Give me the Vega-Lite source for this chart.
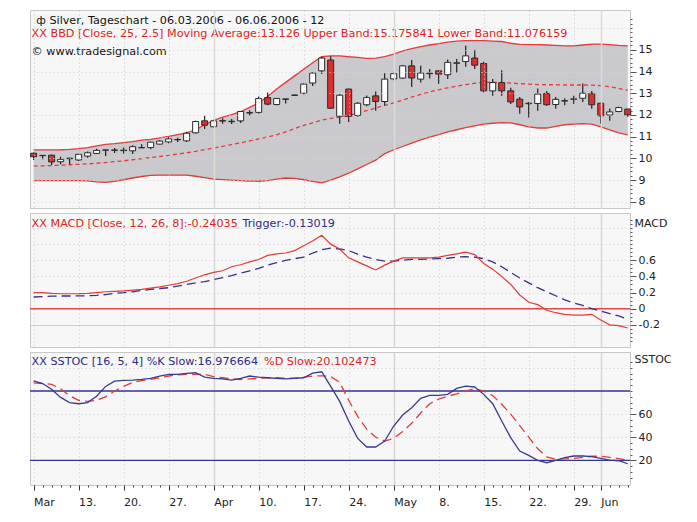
{
  "$schema": "https://vega.github.io/schema/vega-lite/v6.json",
  "background": "#ffffff",
  "padding": {"left": 28, "top": 9, "right": 5, "bottom": 5},
  "spacing": 5,
  "bounds": "flush",
  "config": {
    "view": {"fill": "#f7f7f7", "stroke": "#c8c8c8"},
    "font": "DejaVu Sans",
    "axis": {"labelFont": "DejaVu Sans", "labelFontSize": 11, "labelColor": "#222222", "domain": false, "tickColor": "#555555", "labelOverlap": false, "labelFlush": false, "titleFont": "DejaVu Sans", "titleFontWeight": "normal", "titleFontSize": 11, "titleColor": "#222222"}
  },
  "datasets": {
    "d": [
      {"i":0,"o":10.24,"h":10.27,"l":9.93,"c":10.08,"ma":9.65,"up":10.39,"lo":8.98,"macd":0.20,"trg":0.145,"k":88.7,"dd":87},
      {"i":1,"o":10.13,"h":10.15,"l":9.96,"c":10.14,"ma":9.66,"up":10.39,"lo":8.98,"macd":0.20,"trg":0.15,"k":86.5,"dd":86.5},
      {"i":2,"o":10.15,"h":10.17,"l":9.70,"c":9.84,"ma":9.67,"up":10.39,"lo":8.98,"macd":0.19,"trg":0.155,"k":81.5,"dd":85.8},
      {"i":3,"o":9.85,"h":10.08,"l":9.73,"c":9.96,"ma":9.69,"up":10.40,"lo":8.98,"macd":0.185,"trg":0.157,"k":74.5,"dd":82},
      {"i":4,"o":9.99,"h":10.03,"l":9.73,"c":10.01,"ma":9.71,"up":10.42,"lo":8.98,"macd":0.185,"trg":0.157,"k":70,"dd":76},
      {"i":5,"o":9.93,"h":10.20,"l":9.88,"c":10.19,"ma":9.73,"up":10.45,"lo":8.98,"macd":0.186,"trg":0.158,"k":69,"dd":72},
      {"i":6,"o":10.11,"h":10.32,"l":10.03,"c":10.26,"ma":9.75,"up":10.50,"lo":8.97,"macd":0.19,"trg":0.16,"k":70,"dd":71},
      {"i":7,"o":10.23,"h":10.45,"l":10.20,"c":10.37,"ma":9.78,"up":10.58,"lo":8.92,"macd":0.20,"trg":0.165,"k":75.5,"dd":72},
      {"i":8,"o":10.38,"h":10.40,"l":10.11,"c":10.39,"ma":9.81,"up":10.65,"lo":8.90,"macd":0.21,"trg":0.175,"k":84,"dd":75},
      {"i":9,"o":10.37,"h":10.48,"l":10.25,"c":10.39,"ma":9.85,"up":10.68,"lo":8.95,"macd":0.215,"trg":0.19,"k":88.5,"dd":80},
      {"i":10,"o":10.36,"h":10.50,"l":10.23,"c":10.38,"ma":9.89,"up":10.73,"lo":9.02,"macd":0.22,"trg":0.198,"k":89.3,"dd":84},
      {"i":11,"o":10.35,"h":10.61,"l":10.20,"c":10.54,"ma":9.94,"up":10.77,"lo":9.10,"macd":0.23,"trg":0.21,"k":89.5,"dd":87.5},
      {"i":12,"o":10.49,"h":10.65,"l":10.48,"c":10.50,"ma":9.99,"up":10.84,"lo":9.17,"macd":0.24,"trg":0.225,"k":90,"dd":89},
      {"i":13,"o":10.50,"h":10.77,"l":10.42,"c":10.75,"ma":10.04,"up":10.88,"lo":9.22,"macd":0.255,"trg":0.24,"k":91,"dd":90},
      {"i":14,"o":10.66,"h":10.83,"l":10.64,"c":10.80,"ma":10.09,"up":10.95,"lo":9.23,"macd":0.27,"trg":0.25,"k":93,"dd":91.5},
      {"i":15,"o":10.76,"h":10.98,"l":10.70,"c":10.90,"ma":10.14,"up":11.02,"lo":9.23,"macd":0.29,"trg":0.26,"k":94.4,"dd":93},
      {"i":16,"o":10.86,"h":10.96,"l":10.76,"c":10.87,"ma":10.20,"up":11.10,"lo":9.23,"macd":0.31,"trg":0.28,"k":94.4,"dd":94},
      {"i":17,"o":10.81,"h":11.23,"l":10.76,"c":11.16,"ma":10.26,"up":11.18,"lo":9.23,"macd":0.34,"trg":0.30,"k":95.2,"dd":94.4},
      {"i":18,"o":11.18,"h":11.74,"l":11.15,"c":11.70,"ma":10.33,"up":11.32,"lo":9.18,"macd":0.38,"trg":0.32,"k":95.8,"dd":94.5},
      {"i":19,"o":11.73,"h":11.96,"l":11.35,"c":11.53,"ma":10.41,"up":11.55,"lo":9.12,"macd":0.42,"trg":0.335,"k":92,"dd":94.4},
      {"i":20,"o":11.46,"h":11.78,"l":11.42,"c":11.73,"ma":10.48,"up":11.75,"lo":9.05,"macd":0.45,"trg":0.36,"k":91,"dd":92.5},
      {"i":21,"o":11.72,"h":11.85,"l":11.60,"c":11.74,"ma":10.56,"up":11.90,"lo":9.03,"macd":0.47,"trg":0.385,"k":90.5,"dd":91.5},
      {"i":22,"o":11.69,"h":11.82,"l":11.58,"c":11.71,"ma":10.64,"up":12.02,"lo":9.00,"macd":0.52,"trg":0.41,"k":89.5,"dd":90.5},
      {"i":23,"o":11.73,"h":12.18,"l":11.63,"c":12.16,"ma":10.72,"up":12.15,"lo":8.98,"macd":0.545,"trg":0.44,"k":91,"dd":90},
      {"i":24,"o":12.09,"h":12.22,"l":11.97,"c":12.11,"ma":10.81,"up":12.35,"lo":8.96,"macd":0.58,"trg":0.47,"k":93,"dd":90.5},
      {"i":25,"o":12.12,"h":12.85,"l":12.07,"c":12.76,"ma":10.90,"up":12.55,"lo":8.95,"macd":0.61,"trg":0.50,"k":92,"dd":91},
      {"i":26,"o":12.80,"h":13.03,"l":12.45,"c":12.50,"ma":10.99,"up":12.85,"lo":8.98,"macd":0.66,"trg":0.54,"k":91.5,"dd":91.5},
      {"i":27,"o":12.48,"h":12.78,"l":12.45,"c":12.76,"ma":11.09,"up":13.20,"lo":9.05,"macd":0.68,"trg":0.57,"k":91,"dd":91.5},
      {"i":28,"o":12.72,"h":12.75,"l":12.53,"c":12.74,"ma":11.22,"up":13.50,"lo":9.10,"macd":0.69,"trg":0.60,"k":90.6,"dd":91},
      {"i":29,"o":12.90,"h":12.93,"l":12.89,"c":12.92,"ma":11.38,"up":13.80,"lo":9.08,"macd":0.72,"trg":0.62,"k":91,"dd":91.2},
      {"i":30,"o":13.00,"h":13.45,"l":12.95,"c":13.42,"ma":11.52,"up":14.10,"lo":9.02,"macd":0.78,"trg":0.64,"k":91.5,"dd":92},
      {"i":31,"o":13.47,"h":13.95,"l":13.33,"c":13.93,"ma":11.64,"up":14.40,"lo":8.95,"macd":0.84,"trg":0.69,"k":95.5,"dd":93},
      {"i":32,"o":14.03,"h":14.68,"l":13.88,"c":14.62,"ma":11.76,"up":14.68,"lo":8.88,"macd":0.91,"trg":0.73,"k":96.7,"dd":93.2},
      {"i":33,"o":14.53,"h":14.70,"l":12.28,"c":12.31,"ma":11.84,"up":14.72,"lo":9.00,"macd":0.80,"trg":0.75,"k":84,"dd":92.5},
      {"i":34,"o":11.94,"h":12.95,"l":11.60,"c":12.91,"ma":11.90,"up":14.72,"lo":9.15,"macd":0.74,"trg":0.74,"k":71,"dd":87.5},
      {"i":35,"o":13.19,"h":13.22,"l":11.68,"c":11.94,"ma":11.97,"up":14.68,"lo":9.32,"macd":0.63,"trg":0.72,"k":54,"dd":72},
      {"i":36,"o":11.98,"h":12.58,"l":11.92,"c":12.54,"ma":12.08,"up":14.65,"lo":9.52,"macd":0.58,"trg":0.675,"k":39,"dd":58},
      {"i":37,"o":12.47,"h":12.90,"l":12.40,"c":12.80,"ma":12.20,"up":14.60,"lo":9.72,"macd":0.53,"trg":0.64,"k":31.5,"dd":47},
      {"i":38,"o":12.88,"h":13.08,"l":12.19,"c":12.62,"ma":12.32,"up":14.62,"lo":9.92,"macd":0.48,"trg":0.61,"k":31.5,"dd":40},
      {"i":39,"o":12.62,"h":13.92,"l":12.45,"c":13.65,"ma":12.44,"up":14.68,"lo":10.22,"macd":0.54,"trg":0.59,"k":36.7,"dd":36.7},
      {"i":40,"o":13.66,"h":13.95,"l":13.60,"c":13.90,"ma":12.56,"up":14.80,"lo":10.40,"macd":0.59,"trg":0.59,"k":49.7,"dd":39},
      {"i":41,"o":13.70,"h":14.30,"l":13.65,"c":14.26,"ma":12.68,"up":14.95,"lo":10.55,"macd":0.63,"trg":0.60,"k":59.2,"dd":45},
      {"i":42,"o":14.26,"h":14.53,"l":13.29,"c":13.70,"ma":12.82,"up":15.05,"lo":10.70,"macd":0.63,"trg":0.61,"k":65.5,"dd":52},
      {"i":43,"o":13.65,"h":14.26,"l":13.49,"c":13.93,"ma":12.95,"up":15.15,"lo":10.85,"macd":0.63,"trg":0.61,"k":73.7,"dd":61},
      {"i":44,"o":13.90,"h":14.11,"l":13.68,"c":13.92,"ma":13.06,"up":15.22,"lo":10.98,"macd":0.63,"trg":0.615,"k":76.3,"dd":69},
      {"i":45,"o":14.03,"h":14.06,"l":13.42,"c":13.88,"ma":13.16,"up":15.28,"lo":11.10,"macd":0.64,"trg":0.62,"k":76.3,"dd":73},
      {"i":46,"o":13.85,"h":14.55,"l":13.65,"c":14.42,"ma":13.25,"up":15.35,"lo":11.22,"macd":0.66,"trg":0.625,"k":77.1,"dd":75.5},
      {"i":47,"o":14.38,"h":14.57,"l":13.96,"c":14.40,"ma":13.33,"up":15.40,"lo":11.32,"macd":0.68,"trg":0.64,"k":82.3,"dd":77.5},
      {"i":48,"o":14.46,"h":15.18,"l":14.22,"c":14.72,"ma":13.40,"up":15.42,"lo":11.42,"macd":0.70,"trg":0.645,"k":84.3,"dd":80},
      {"i":49,"o":14.62,"h":15.00,"l":14.11,"c":14.29,"ma":13.46,"up":15.42,"lo":11.50,"macd":0.67,"trg":0.64,"k":83.5,"dd":82},
      {"i":50,"o":14.37,"h":14.45,"l":13.05,"c":13.11,"ma":13.50,"up":15.42,"lo":11.58,"macd":0.56,"trg":0.62,"k":77.1,"dd":80},
      {"i":51,"o":13.11,"h":13.65,"l":12.88,"c":13.49,"ma":13.50,"up":15.40,"lo":11.62,"macd":0.49,"trg":0.58,"k":69,"dd":76},
      {"i":52,"o":13.49,"h":14.06,"l":12.88,"c":13.11,"ma":13.49,"up":15.38,"lo":11.65,"macd":0.40,"trg":0.52,"k":54,"dd":68.5},
      {"i":53,"o":13.11,"h":13.25,"l":12.50,"c":12.60,"ma":13.47,"up":15.30,"lo":11.64,"macd":0.30,"trg":0.45,"k":39.6,"dd":60},
      {"i":54,"o":12.73,"h":12.83,"l":12.06,"c":12.37,"ma":13.44,"up":15.25,"lo":11.55,"macd":0.17,"trg":0.38,"k":28,"dd":50},
      {"i":55,"o":12.52,"h":12.60,"l":11.88,"c":12.54,"ma":13.42,"up":15.24,"lo":11.45,"macd":0.08,"trg":0.32,"k":24.3,"dd":40},
      {"i":56,"o":12.53,"h":13.22,"l":12.19,"c":12.96,"ma":13.40,"up":15.24,"lo":11.40,"macd":0.05,"trg":0.26,"k":20,"dd":30},
      {"i":57,"o":12.99,"h":13.10,"l":12.43,"c":12.47,"ma":13.39,"up":15.22,"lo":11.40,"macd":-0.02,"trg":0.21,"k":17.9,"dd":23},
      {"i":58,"o":12.48,"h":12.83,"l":12.29,"c":12.72,"ma":13.39,"up":15.20,"lo":11.48,"macd":-0.05,"trg":0.16,"k":20,"dd":20.9},
      {"i":59,"o":12.64,"h":12.77,"l":12.45,"c":12.66,"ma":13.38,"up":15.18,"lo":11.55,"macd":-0.07,"trg":0.11,"k":22.3,"dd":21.2},
      {"i":60,"o":12.72,"h":12.88,"l":12.50,"c":12.74,"ma":13.38,"up":15.18,"lo":11.58,"macd":-0.08,"trg":0.07,"k":23.7,"dd":21.7},
      {"i":61,"o":12.77,"h":13.45,"l":12.60,"c":13.00,"ma":13.38,"up":15.22,"lo":11.60,"macd":-0.08,"trg":0.04,"k":23.7,"dd":22.5},
      {"i":62,"o":12.99,"h":13.10,"l":12.29,"c":12.47,"ma":13.37,"up":15.26,"lo":11.58,"macd":-0.07,"trg":0.00,"k":23.1,"dd":23.5},
      {"i":63,"o":12.54,"h":12.56,"l":11.60,"c":11.96,"ma":13.35,"up":15.26,"lo":11.45,"macd":-0.14,"trg":-0.03,"k":21.7,"dd":23.5},
      {"i":64,"o":12.00,"h":12.30,"l":11.73,"c":12.14,"ma":13.30,"up":15.24,"lo":11.32,"macd":-0.20,"trg":-0.06,"k":20.2,"dd":22.5},
      {"i":65,"o":12.16,"h":12.38,"l":12.12,"c":12.34,"ma":13.22,"up":15.20,"lo":11.18,"macd":-0.21,"trg":-0.09,"k":19.6,"dd":21.5},
      {"i":66,"o":12.27,"h":12.29,"l":11.92,"c":12.00,"ma":13.13,"up":15.18,"lo":11.08,"macd":-0.24,"trg":-0.13,"k":17,"dd":20.1}
    ]
  },
  "vconcat": [
    {
      "width": 600,
      "height": 198,
      "data": {"name": "d"},
      "layer": [
        {
          "mark": {"type": "area", "color": "#c9c9ce", "opacity": 1},
          "encoding": {
            "x": {
              "field": "i", "type": "quantitative",
              "scale": {"domain": [-0.4, 66.25], "nice": false, "zero": false, "padding": 0},
              "axis": {
                "title": null, "labels": false, "ticks": false, "zindex": 1, "tickCount": 500,
                "values": [0, 5, 10, 15, 20, 25, 30, 35, 40, 45, 50, 55, 60, 63],
                "gridColor": {"condition": {"test": "datum.value == 20 || datum.value == 40 || datum.value == 63", "value": "#dcdad2"}, "value": "#c4c4c4"},
                "gridDash": {"condition": {"test": "datum.value == 20 || datum.value == 40 || datum.value == 63", "value": []}, "value": [1, 3]},
                "gridWidth": {"condition": {"test": "datum.value == 20 || datum.value == 40 || datum.value == 63", "value": 1.5}, "value": 1}
              }
            },
            "y": {
              "field": "up", "type": "quantitative",
              "scale": {"domain": [7.72, 16.83], "nice": false, "zero": false, "padding": 0},
              "axis": {
                "orient": "right", "title": null, "zindex": 1, "labelPadding": 2, "labelOverlap": false, "tickCount": 500,
                "values": [8, 8.2, 8.4, 8.6, 8.8, 9, 9.2, 9.4, 9.6, 9.8, 10, 10.2, 10.4, 10.6, 10.8, 11, 11.2, 11.4, 11.6, 11.8, 12, 12.2, 12.4, 12.6, 12.8, 13, 13.2, 13.4, 13.6, 13.8, 14, 14.2, 14.4, 14.6, 14.8, 15, 15.2, 15.4, 15.6, 15.8, 16, 16.2, 16.4],
                "labelExpr": "datum.value == round(datum.value) && datum.value <= 15 ? format(datum.value, 'd') : ''",
                "tickSize": {"condition": {"test": "datum.value == round(datum.value) && datum.value <= 15", "value": 6}, "value": 2},
                "gridOpacity": {"condition": {"test": "datum.value == round(datum.value)", "value": 1}, "value": 0},
                "gridDash": [1, 3],
                "gridColor": "#d6d6d6"
              }
            },
            "y2": {"field": "lo"}
          }
        },
        {
          "mark": {"type": "line", "color": "#e23b3b", "strokeWidth": 1.3},
          "encoding": {"x": {"field": "i", "type": "quantitative"}, "y": {"field": "up", "type": "quantitative"}}
        },
        {
          "mark": {"type": "line", "color": "#e23b3b", "strokeWidth": 1.3},
          "encoding": {"x": {"field": "i", "type": "quantitative"}, "y": {"field": "lo", "type": "quantitative"}}
        },
        {
          "mark": {"type": "line", "color": "#e23b3b", "strokeWidth": 1.3, "strokeDash": [4, 3]},
          "encoding": {"x": {"field": "i", "type": "quantitative"}, "y": {"field": "ma", "type": "quantitative"}}
        },
        {
          "mark": {"type": "rule", "color": "#222222", "strokeWidth": 1.2},
          "encoding": {"x": {"field": "i", "type": "quantitative"}, "y": {"field": "l", "type": "quantitative"}, "y2": {"field": "h"}}
        },
        {
          "mark": {"type": "bar", "width": 6, "orient": "vertical", "stroke": "#2a2a2a", "strokeWidth": 1},
          "encoding": {
            "x": {"field": "i", "type": "quantitative"},
            "y": {"field": "o", "type": "quantitative"},
            "y2": {"field": "c"},
            "fill": {"condition": {"test": "datum.c >= datum.o", "value": "#ffffff"}, "value": "#d93030"}
          }
        },
        {
          "data": {"values": [{"t": "ф Silver, Tageschart - 06.03.2006 - 06.06.2006 - 12"}]},
          "mark": {"type": "text", "align": "left", "baseline": "middle", "fontSize": 11.2, "color": "#111111"},
          "encoding": {"x": {"datum": 0.3, "type": "quantitative"}, "y": {"datum": 16.34, "type": "quantitative"}, "text": {"field": "t"}}
        },
        {
          "data": {"values": [{"t": "XX BBD [Close, 25, 2.5] Moving Average:13.126 Upper Band:15.175841 Lower Band:11.076159"}]},
          "mark": {"type": "text", "align": "left", "baseline": "middle", "fontSize": 11.2, "color": "#e02424"},
          "encoding": {"x": {"datum": -0.22, "type": "quantitative"}, "y": {"datum": 15.72, "type": "quantitative"}, "text": {"field": "t"}}
        },
        {
          "data": {"values": [{"t": "© www.tradesignal.com"}]},
          "mark": {"type": "text", "align": "left", "baseline": "middle", "fontSize": 11.2, "color": "#111111"},
          "encoding": {"x": {"datum": -0.22, "type": "quantitative"}, "y": {"datum": 14.88, "type": "quantitative"}, "text": {"field": "t"}}
        }
      ]
    },
    {
      "width": 600,
      "height": 134,
      "data": {"name": "d"},
      "layer": [
        {
          "data": {"values": [{"lvl": 0}]},
          "mark": {"type": "rule", "color": "#e04848", "strokeWidth": 1.5},
          "encoding": {
            "y": {
              "field": "lvl", "type": "quantitative",
              "scale": {"domain": [-0.475, 1.186], "nice": false, "zero": false},
              "axis": {
                "orient": "right", "title": "MACD", "titleAngle": 0, "titleAlign": "left", "titleBaseline": "top", "titleX": 4, "titleY": 4, "labelPadding": 2, "labelOverlap": false, "tickCount": 500,
                "values": [-0.4, -0.35, -0.3, -0.25, -0.2, -0.15, -0.1, -0.05, 0, 0.05, 0.1, 0.15, 0.2, 0.25, 0.3, 0.35, 0.4, 0.45, 0.5, 0.55, 0.6, 0.65, 0.7, 0.75, 0.8, 0.85, 0.9, 0.95, 1, 1.05, 1.1],
                "labelExpr": "datum.value == -0.2 ? '-0.2' : datum.value == 0 ? '0' : datum.value == 0.2 ? '0.2' : datum.value == 0.4 ? '0.4' : datum.value == 0.6 ? '0.6' : ''",
                "tickSize": {"condition": {"test": "datum.value == -0.2 || datum.value == 0 || datum.value == 0.2 || datum.value == 0.4 || datum.value == 0.6", "value": 6}, "value": 2},
                "gridOpacity": {"condition": {"test": "datum.value == -0.2 || datum.value == 0.2 || datum.value == 0.4 || datum.value == 0.6 || datum.value == 0.8 || datum.value == 1", "value": 1}, "value": 0},
                "gridDash": {"condition": {"test": "datum.value == -0.2", "value": []}, "value": [1, 3]},
                "gridColor": "#cdcdcd"
              }
            }
          }
        },
        {
          "mark": {"type": "line", "color": "#34348a", "strokeWidth": 1.3, "strokeDash": [9, 5]},
          "encoding": {
            "x": {
              "field": "i", "type": "quantitative",
              "scale": {"domain": [-0.4, 66.25], "nice": false, "zero": false},
              "axis": {
                "title": null, "labels": false, "ticks": false, "tickCount": 500,
                "values": [0, 5, 10, 15, 20, 25, 30, 35, 40, 45, 50, 55, 60, 63],
                "gridColor": {"condition": {"test": "datum.value == 20 || datum.value == 40 || datum.value == 63", "value": "#d6d6d6"}, "value": "#cdcdcd"},
                "gridDash": {"condition": {"test": "datum.value == 20 || datum.value == 40 || datum.value == 63", "value": []}, "value": [1, 3]},
                "gridWidth": {"condition": {"test": "datum.value == 20 || datum.value == 40 || datum.value == 63", "value": 1.5}, "value": 1}
              }
            },
            "y": {"field": "trg", "type": "quantitative"}
          }
        },
        {
          "mark": {"type": "line", "color": "#e23b3b", "strokeWidth": 1.2},
          "encoding": {"x": {"field": "i", "type": "quantitative"}, "y": {"field": "macd", "type": "quantitative"}}
        },
        {
          "data": {"values": [{"t": "XX MACD [Close, 12, 26, 8]:-0.24035"}]},
          "mark": {"type": "text", "align": "left", "baseline": "middle", "fontSize": 11.2, "color": "#e02424"},
          "encoding": {"x": {"datum": -0.22, "type": "quantitative"}, "y": {"datum": 1.046, "type": "quantitative"}, "text": {"field": "t"}}
        },
        {
          "data": {"values": [{"t": "Trigger:-0.13019"}]},
          "mark": {"type": "text", "align": "left", "baseline": "middle", "fontSize": 11.2, "color": "#2c2c84"},
          "encoding": {"x": {"datum": 23.2, "type": "quantitative"}, "y": {"datum": 1.046, "type": "quantitative"}, "text": {"field": "t"}}
        }
      ]
    },
    {
      "width": 600,
      "height": 133,
      "data": {"name": "d"},
      "layer": [
        {
          "data": {"values": [{"lvl": 80}, {"lvl": 20}]},
          "mark": {"type": "rule", "color": "#34348a", "strokeWidth": 1.3},
          "encoding": {
            "y": {
              "field": "lvl", "type": "quantitative",
              "scale": {"domain": [-1.4, 113.8], "nice": false, "zero": false},
              "axis": {
                "orient": "right", "title": "SSTOC", "titleAngle": 0, "titleAlign": "left", "titleBaseline": "top", "titleX": 4, "titleY": 1, "labelPadding": 2, "labelOverlap": false, "tickCount": 500,
                "values": [5, 10, 15, 20, 25, 30, 35, 40, 45, 50, 55, 60, 65, 70, 75, 80, 85, 90, 95, 100, 105],
                "labelExpr": "datum.value == 20 || datum.value == 40 || datum.value == 60 ? format(datum.value, 'd') : ''",
                "tickSize": {"condition": {"test": "datum.value == 20 || datum.value == 40 || datum.value == 60", "value": 6}, "value": 2},
                "gridOpacity": {"condition": {"test": "datum.value == 40 || datum.value == 60 || datum.value == 100", "value": 1}, "value": 0},
                "gridDash": [1, 3],
                "gridColor": "#cdcdcd"
              }
            }
          }
        },
        {
          "mark": {"type": "line", "color": "#e23b3b", "strokeWidth": 1.3, "strokeDash": [9, 5]},
          "encoding": {
            "x": {
              "field": "i", "type": "quantitative",
              "scale": {"domain": [-0.4, 66.25], "nice": false, "zero": false},
              "axis": {
                "title": null, "labelAlign": "left", "labelPadding": 6, "tickColor": "#333333", "labelOverlap": false, "tickCount": 500,
                "values": [0, 1, 2, 3, 4, 5, 6, 7, 8, 9, 10, 11, 12, 13, 14, 15, 16, 17, 18, 19, 20, 21, 22, 23, 24, 25, 26, 27, 28, 29, 30, 31, 32, 33, 34, 35, 36, 37, 38, 39, 40, 41, 42, 43, 44, 45, 46, 47, 48, 49, 50, 51, 52, 53, 54, 55, 56, 57, 58, 59, 60, 61, 62, 63, 64, 65, 66],
                "labelExpr": "datum.value == 0 ? 'Mar' : datum.value == 5 ? '13.' : datum.value == 10 ? '20.' : datum.value == 15 ? '27.' : datum.value == 20 ? 'Apr' : datum.value == 25 ? '10.' : datum.value == 30 ? '17.' : datum.value == 35 ? '24.' : datum.value == 40 ? 'May' : datum.value == 45 ? '8.' : datum.value == 50 ? '15.' : datum.value == 55 ? '22.' : datum.value == 60 ? '29.' : datum.value == 63 ? 'Jun' : ''",
                "tickSize": {"condition": {"test": "(datum.value % 5 == 0 && datum.value <= 60) || datum.value == 63", "value": 5}, "value": 2},
                "gridOpacity": {"condition": {"test": "(datum.value % 5 == 0 && datum.value <= 60) || datum.value == 63", "value": 1}, "value": 0},
                "gridColor": {"condition": {"test": "datum.value == 20 || datum.value == 40 || datum.value == 63", "value": "#d6d6d6"}, "value": "#cdcdcd"},
                "gridDash": {"condition": {"test": "datum.value == 20 || datum.value == 40 || datum.value == 63", "value": []}, "value": [1, 3]},
                "gridWidth": {"condition": {"test": "datum.value == 20 || datum.value == 40 || datum.value == 63", "value": 1.5}, "value": 1}
              }
            },
            "y": {"field": "dd", "type": "quantitative"}
          }
        },
        {
          "mark": {"type": "line", "color": "#3a3a8e", "strokeWidth": 1.3},
          "encoding": {"x": {"field": "i", "type": "quantitative"}, "y": {"field": "k", "type": "quantitative"}}
        },
        {
          "data": {"values": [{"t": "XX SSTOC [16, 5, 4] %K Slow:16.976664"}]},
          "mark": {"type": "text", "align": "left", "baseline": "middle", "fontSize": 11.2, "color": "#2c2c84"},
          "encoding": {"x": {"datum": -0.22, "type": "quantitative"}, "y": {"datum": 105.4, "type": "quantitative"}, "text": {"field": "t"}}
        },
        {
          "data": {"values": [{"t": "%D Slow:20.102473"}]},
          "mark": {"type": "text", "align": "left", "baseline": "middle", "fontSize": 11.2, "color": "#e02424"},
          "encoding": {"x": {"datum": 25.6, "type": "quantitative"}, "y": {"datum": 105.4, "type": "quantitative"}, "text": {"field": "t"}}
        }
      ]
    }
  ]
}
